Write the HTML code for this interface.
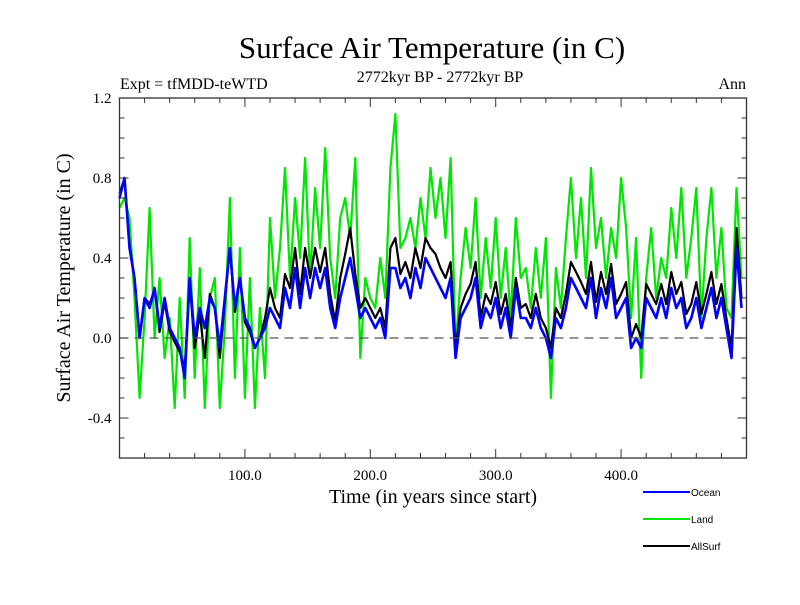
<!DOCTYPE html>
<html><head><meta charset="utf-8"><style>
body{margin:0;background:#fff}
svg text{font-family:"Liberation Serif",serif}
</style></head><body>
<svg id="chart" width="800" height="600" xmlns="http://www.w3.org/2000/svg">
<rect width="800" height="600" fill="#fff"/>
<text x="432" y="58" font-size="31" text-anchor="middle">Surface Air Temperature (in C)</text>
<text x="120" y="89" font-size="16">Expt = tfMDD-teWTD</text>
<text x="440" y="82" font-size="16" text-anchor="middle">2772kyr BP - 2772kyr BP</text>
<text x="746" y="89" font-size="16" text-anchor="end">Ann</text>
<text transform="translate(70,278) rotate(-90)" font-size="20" text-anchor="middle">Surface Air Temperature (in C)</text>
<text x="433" y="503" font-size="20" text-anchor="middle">Time (in years since start)</text>
<g id="series"></g>
<g id="axes"></g>
<g id="legend"></g>
</svg>
<script>
const years = [];
for (let i = 0; i < 125; i++) years.push(i * 4);
const land = [0.65,0.7,0.6,0.2,-0.3,0.1,0.65,0.0,0.3,-0.1,0.1,-0.35,0.2,-0.3,0.5,-0.2,0.35,-0.35,0.2,0.3,-0.35,0.05,0.7,-0.2,0.45,-0.3,0.3,-0.35,0.15,-0.2,0.6,0.2,0.45,0.85,0.3,0.7,0.4,0.9,0.3,0.75,0.45,0.95,0.4,0.2,0.6,0.7,0.5,0.9,-0.1,0.3,0.2,0.15,0.4,0.2,0.85,1.12,0.45,0.5,0.6,0.45,0.7,0.5,0.85,0.6,0.8,0.5,0.9,-0.05,0.3,0.55,0.35,0.7,0.2,0.5,0.25,0.6,0.2,0.45,0.1,0.6,0.3,0.35,0.15,0.45,0.2,0.5,-0.3,0.35,0.15,0.5,0.8,0.4,0.7,0.3,0.85,0.45,0.6,0.3,0.55,0.4,0.8,0.55,0.1,0.5,-0.2,0.3,0.55,0.2,0.4,0.3,0.65,0.4,0.75,0.3,0.5,0.75,0.1,0.5,0.75,0.3,0.55,0.15,0.1,0.75,0.3];
const allsurf = [0.72,0.8,0.47,0.3,0.0,0.2,0.17,0.24,0.03,0.18,0.03,-0.02,-0.07,-0.15,0.28,-0.05,0.12,-0.1,0.22,0.15,-0.1,0.18,0.45,0.13,0.3,0.08,0.03,-0.05,0.0,0.1,0.25,0.15,0.1,0.32,0.25,0.45,0.22,0.45,0.3,0.45,0.33,0.45,0.22,0.08,0.3,0.42,0.55,0.32,0.15,0.2,0.15,0.1,0.15,0.05,0.45,0.5,0.32,0.38,0.3,0.45,0.35,0.5,0.45,0.42,0.35,0.3,0.38,-0.05,0.15,0.22,0.27,0.38,0.1,0.22,0.17,0.28,0.12,0.22,0.05,0.3,0.15,0.17,0.1,0.22,0.1,0.05,-0.05,0.15,0.1,0.22,0.38,0.33,0.28,0.22,0.38,0.18,0.33,0.22,0.37,0.17,0.22,0.28,0.0,0.07,0.0,0.27,0.22,0.17,0.27,0.17,0.33,0.22,0.28,0.12,0.17,0.28,0.12,0.22,0.33,0.17,0.27,0.1,-0.05,0.55,0.2];
const ocean = [0.7,0.8,0.45,0.3,0.0,0.2,0.15,0.25,0.05,0.2,0.05,0.0,-0.05,-0.2,0.3,0.0,0.15,0.05,0.2,0.15,-0.05,0.2,0.45,0.15,0.3,0.1,0.05,-0.05,0.0,0.05,0.15,0.1,0.05,0.25,0.15,0.35,0.15,0.35,0.2,0.35,0.25,0.35,0.15,0.05,0.2,0.3,0.4,0.25,0.1,0.15,0.1,0.05,0.1,0.0,0.35,0.35,0.25,0.3,0.2,0.35,0.25,0.4,0.35,0.3,0.25,0.2,0.3,-0.1,0.1,0.15,0.2,0.3,0.05,0.15,0.1,0.2,0.05,0.15,0.0,0.25,0.1,0.1,0.05,0.15,0.05,0.0,-0.1,0.1,0.05,0.15,0.3,0.25,0.2,0.15,0.3,0.1,0.25,0.15,0.3,0.1,0.15,0.2,-0.05,0.0,-0.05,0.2,0.15,0.1,0.2,0.1,0.25,0.15,0.2,0.05,0.1,0.2,0.05,0.15,0.25,0.1,0.2,0.05,-0.1,0.45,0.15];
const xTickLabels = ["100.0","200.0","300.0","400.0"];
const xTickValues = [100,200,300,400];
const yTickLabels = ["-0.4","0.0","0.4","0.8","1.2"];
const yTickValues = [-0.4,0,0.4,0.8,1.2];

const NS = "http://www.w3.org/2000/svg";
const L = 119.5, R = 746.5, T = 98, B = 458;
const xMin = 0, xMax = 500, yMin = -0.6, yMax = 1.2;
function xs(v){ return L + (v - xMin) / (xMax - xMin) * (R - L); }
function ys(v){ return B - (v - yMin) / (yMax - yMin) * (B - T); }
function mk(tag, attrs, parent){
  const e = document.createElementNS(NS, tag);
  for (const k in attrs) e.setAttribute(k, attrs[k]);
  parent.appendChild(e);
  return e;
}
const sg = document.getElementById("series");
const ag = document.getElementById("axes");
const lg = document.getElementById("legend");

const zl = mk("line", {x1:L, x2:R, y1:ys(0), y2:ys(0), stroke:"#555", "stroke-width":1.2, "stroke-dasharray":"9,6"}, ag);



function drawSeries(vals, color, width, name){
  let d = "";
  vals.forEach((v,i)=>{ d += (i?"L":"M") + xs(years[i]).toFixed(1) + "," + ys(v).toFixed(1); });
  const p = mk("path", {d:d, fill:"none", stroke:color, "stroke-width":width, "stroke-linejoin":"round"}, sg);
  
  
}
drawSeries(land, "#00e600", 2.2, "land-series");
drawSeries(allsurf, "#000", 2.2, "allsurf-series");
drawSeries(ocean, "#0000ff", 2.6, "ocean-series");

const fr = mk("rect", {x:L, y:T, width:R-L, height:B-T, fill:"none", stroke:"#333", "stroke-width":1.3}, ag);



for (let v = 20; v < 500; v += 20){
  const major = v % 100 === 0;
  const len = major ? 9 : 5;
  const t1 = mk("line", {x1:xs(v), x2:xs(v), y1:B, y2:B-len, stroke:"#333", "stroke-width":1}, ag);
  
  
  const t2 = mk("line", {x1:xs(v), x2:xs(v), y1:T, y2:T+len, stroke:"#333", "stroke-width":1}, ag);
  
  
}
xTickValues.forEach((v,i)=>{
  const t = mk("text", {x:xs(v), y:B+22, "font-size":15, "text-anchor":"middle"}, ag);
  t.textContent = xTickLabels[i];
  
  
});
for (let k = -5; k < 12; k++){
  const v = k / 10;
  const major = k % 4 === 0;
  const len = major ? 9 : 5;
  const t1 = mk("line", {x1:L, x2:L+len, y1:ys(v), y2:ys(v), stroke:"#333", "stroke-width":1}, ag);
  
  
  const t2 = mk("line", {x1:R, x2:R-len, y1:ys(v), y2:ys(v), stroke:"#333", "stroke-width":1}, ag);
  
  
}
yTickValues.forEach((v,i)=>{
  const t = mk("text", {x:L-8, y:ys(v)+5, "font-size":15, "text-anchor":"end"}, ag);
  t.textContent = yTickLabels[i];
  
  
});

const legNames = ["Ocean","Land","AllSurf"];
const legColors = ["#0000ff","#00e600","#000"];
legNames.forEach((n,i)=>{
  const y = 492 + i*27;
  const ln = mk("line", {x1:643, x2:690, y1:y, y2:y, stroke:legColors[i], "stroke-width":2}, lg);
  
  
  const t = mk("text", {x:691, y:y+4, "font-size":10, style:'font-family:"Liberation Sans",sans-serif'}, lg);
  t.textContent = n;
  
  
});
</script>
</body></html>
